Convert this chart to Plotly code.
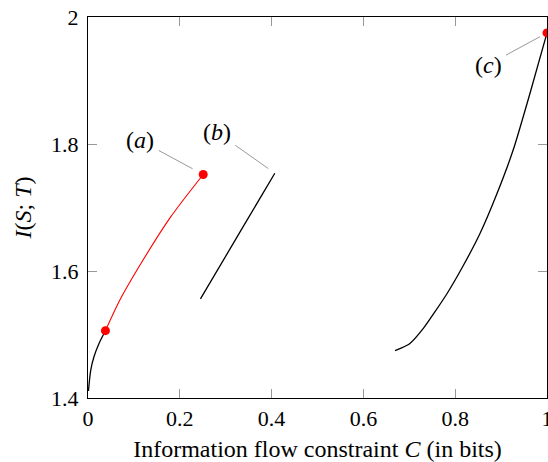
import plotly.graph_objects as go

# Trade-off curves: I(S;T) versus information flow constraint C
low_c = [0.001, 0.006, 0.013, 0.024, 0.038]
low_i = [1.411, 1.444, 1.465, 1.486, 1.506]

a_c = [0.038, 0.07, 0.113, 0.179, 0.251]
a_i = [1.506, 1.555, 1.609, 1.684, 1.752]

b_c = [0.245, 0.33, 0.407]
b_i = [1.556, 1.66, 1.754]

c_c = [0.669, 0.700, 0.731, 0.781, 0.818, 0.854, 0.890, 0.927, 0.963, 1.0]
c_i = [1.4745, 1.485, 1.510, 1.563, 1.609, 1.659, 1.720, 1.792, 1.880, 1.975]

dot_c = [0.038, 0.251, 1.0]
dot_i = [1.506, 1.752, 1.975]

labels = ["(<i>a</i>)", "(<i>b</i>)", "(<i>c</i>)"]
label_at_c = [0.251, 0.407, 1.0]
label_at_i = [1.752, 1.754, 1.975]
label_dx = [-63, -58, -59]
label_dy = [-34, -41, 32]
label_gap = [12, 8, 8]

x_ticks = [0, 0.2, 0.4, 0.6, 0.8, 1]
y_ticks = [1.4, 1.6, 1.8, 2.0]
x_tick_text = ["0", "0.2", "0.4", "0.6", "0.8", "1"]
y_tick_text = ["1.4", "1.6", "1.8", "2"]

FONT = "Liberation Serif"

fig = go.Figure()
fig.add_trace(go.Scatter(x=low_c, y=low_i, mode="lines",
                         line=dict(color="black", width=1.3, shape="spline", smoothing=0.8),
                         cliponaxis=False))
fig.add_trace(go.Scatter(x=a_c, y=a_i, mode="lines",
                         line=dict(color="#ff0000", width=1.1, shape="spline", smoothing=0.8),
                         cliponaxis=False))
fig.add_trace(go.Scatter(x=b_c, y=b_i, mode="lines",
                         line=dict(color="black", width=1.3, shape="spline", smoothing=0.8),
                         cliponaxis=False))
fig.add_trace(go.Scatter(x=c_c, y=c_i, mode="lines",
                         line=dict(color="black", width=1.3, shape="spline", smoothing=0.5),
                         cliponaxis=False))
fig.add_trace(go.Scatter(x=dot_c, y=dot_i, mode="markers",
                         marker=dict(color="#ff0000", size=9), cliponaxis=False))

for t, xc, yi, dx, dy, g in zip(labels, label_at_c, label_at_i, label_dx, label_dy, label_gap):
    fig.add_annotation(x=xc, y=yi, text=t, showarrow=True, arrowhead=0,
                       arrowwidth=1, arrowcolor="#999999", ax=dx, ay=dy,
                       standoff=g, borderpad=4,
                       font=dict(family=FONT, size=24, color="black"))

axis_common = dict(showgrid=False, zeroline=False, showline=True, linecolor="black",
                   linewidth=1.3, mirror="ticks", ticks="inside", ticklen=9,
                   tickcolor="#999999", tickwidth=1, ticklabeloverflow="allow",
                   automargin=False,
                   tickfont=dict(family=FONT, size=22, color="black"))

fig.update_xaxes(range=[0, 1], tickvals=x_ticks, ticktext=x_tick_text,
                 title=dict(text="Information flow constraint <i>C</i> (in bits)",
                            font=dict(family=FONT, size=24, color="black"), standoff=10),
                 **axis_common)
fig.update_yaxes(range=[1.4, 2.0], tickvals=y_ticks, ticktext=y_tick_text,
                 ticklabelstandoff=4,
                 title=dict(text="<i>I</i>(<i>S</i>; <i>T</i>)",
                            font=dict(family=FONT, size=24, color="black"), standoff=12),
                 **axis_common)

fig.update_layout(width=548, height=462, showlegend=False,
                  margin=dict(l=88, r=1, t=17, b=64),
                  plot_bgcolor="white", paper_bgcolor="white")

fig.write_html("out.html")
